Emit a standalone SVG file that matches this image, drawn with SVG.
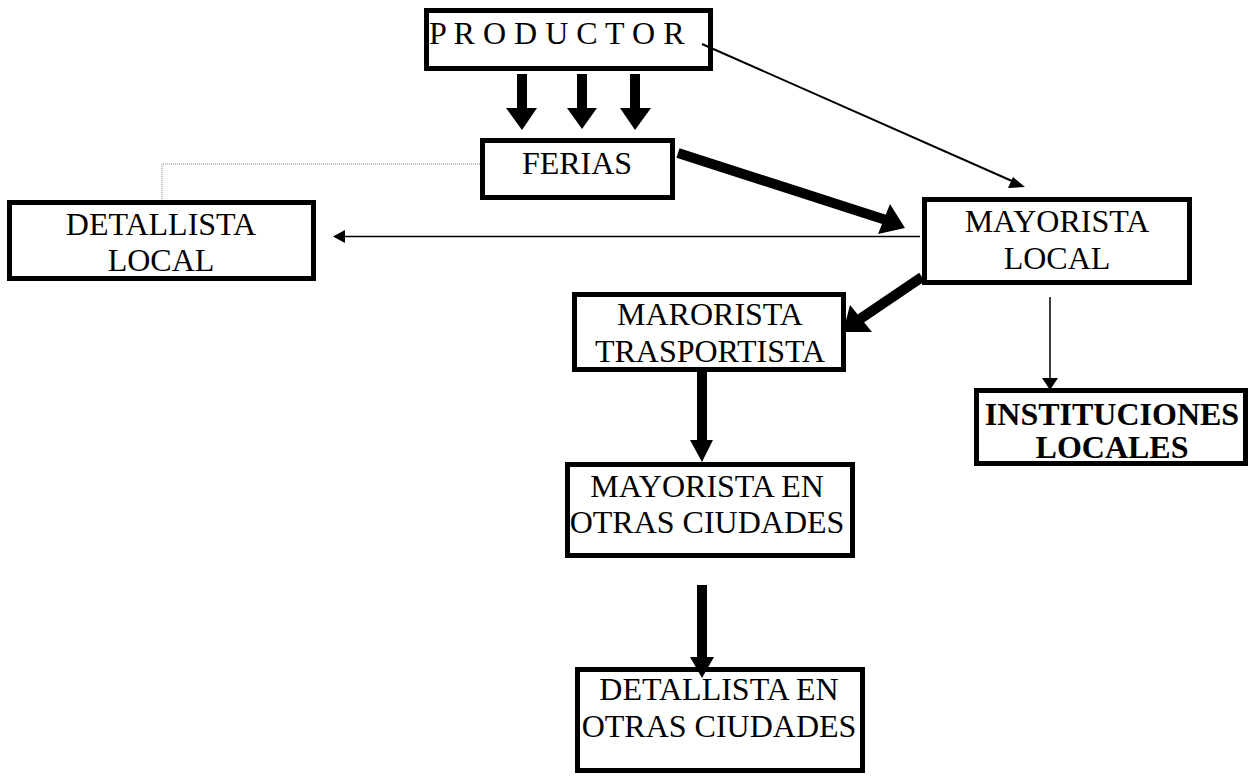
<svg xmlns="http://www.w3.org/2000/svg" width="1250" height="776" viewBox="0 0 1250 776">
<style>
.box{fill:#fff;stroke:#000;stroke-width:5}
.t{font-family:"Liberation Serif","Times New Roman",serif;font-size:32px;fill:#000;text-anchor:middle}
.b{font-weight:bold}
.thin{stroke:#000;fill:none}
.thick{stroke:#000;fill:none;stroke-width:10}
.head{fill:#000;stroke:none}
</style>
<rect width="1250" height="776" fill="#fff"/>
<g id="productor"><rect x="426.5" y="10.5" width="284" height="58" class="box"/><text x="429" y="44" class="t" style="text-anchor:start">P R O D U C T O R</text></g>
<g id="ferias"><rect x="482.5" y="140.5" width="190" height="57" class="box"/><text x="577" y="174" class="t">FERIAS</text></g>
<g id="detallista-local"><rect x="9.5" y="202.5" width="304" height="76" class="box"/><text x="161" y="235" class="t">DETALLISTA</text><text x="161" y="271" class="t">LOCAL</text></g>
<g id="mayorista-local"><rect x="924.5" y="199.5" width="265" height="83" class="box"/><text x="1057" y="232" class="t">MAYORISTA</text><text x="1057" y="269" class="t">LOCAL</text></g>
<g id="marorista-trasportista"><rect x="574.5" y="294.5" width="269" height="75" class="box"/><text x="710" y="325" class="t">MARORISTA</text><text x="710" y="362" class="t">TRASPORTISTA</text></g>
<g id="instituciones-locales"><rect x="976.5" y="390.5" width="269" height="73" class="box"/><text x="1112" y="425" class="t b">INSTITUCIONES</text><text x="1112" y="458" class="t b">LOCALES</text></g>
<g id="mayorista-otras"><rect x="567.5" y="464.5" width="285" height="91" class="box"/><text x="707" y="497" class="t">MAYORISTA EN</text><text x="707" y="533" class="t">OTRAS CIUDADES</text></g>
<g id="detallista-otras"><rect x="577.5" y="669.5" width="285" height="101" class="box"/><text x="719" y="700" class="t">DETALLISTA EN</text><text x="719" y="737" class="t">OTRAS CIUDADES</text></g>
<g id="connectors">
<polyline points="480,164 162,164 162,200" fill="none" stroke="#888" stroke-width="1" stroke-dasharray="1,1"/>
<rect x="517" y="74" width="10" height="35" class="head"/><polygon points="506,108 537,108 522,130" class="head"/>
<rect x="577" y="74" width="10" height="35" class="head"/><polygon points="567,108 597,108 582,129" class="head"/>
<rect x="630" y="74" width="10" height="35" class="head"/><polygon points="620,108 651,108 635,130" class="head"/>
<line x1="702" y1="44" x2="1012" y2="181" class="thin" stroke-width="2"/><polygon points="1013,177 1025,187 1008,188" class="head"/>
<line x1="678" y1="153" x2="886" y2="220" class="thick"/><polygon points="890,204 905,228 878,234" class="head"/>
<line x1="920" y1="236.5" x2="342" y2="236.5" class="thin" stroke-width="1.5"/><polygon points="333,236.5 345,230 345,243" class="head"/>
<line x1="922" y1="277" x2="860" y2="319" class="thick"/><polygon points="850,305 843,332 872,332" class="head"/>
<line x1="1050" y1="297" x2="1050" y2="380" class="thin" stroke-width="1.5"/><polygon points="1042,378 1058,378 1050,390" class="head"/>
<rect x="697" y="372" width="10" height="69" class="head"/><polygon points="690,440 713,440 702,462" class="head"/>
<rect x="697" y="585" width="10" height="73" class="head"/><polygon points="690,657 714,657 702,678" class="head"/>
</g>
</svg>
